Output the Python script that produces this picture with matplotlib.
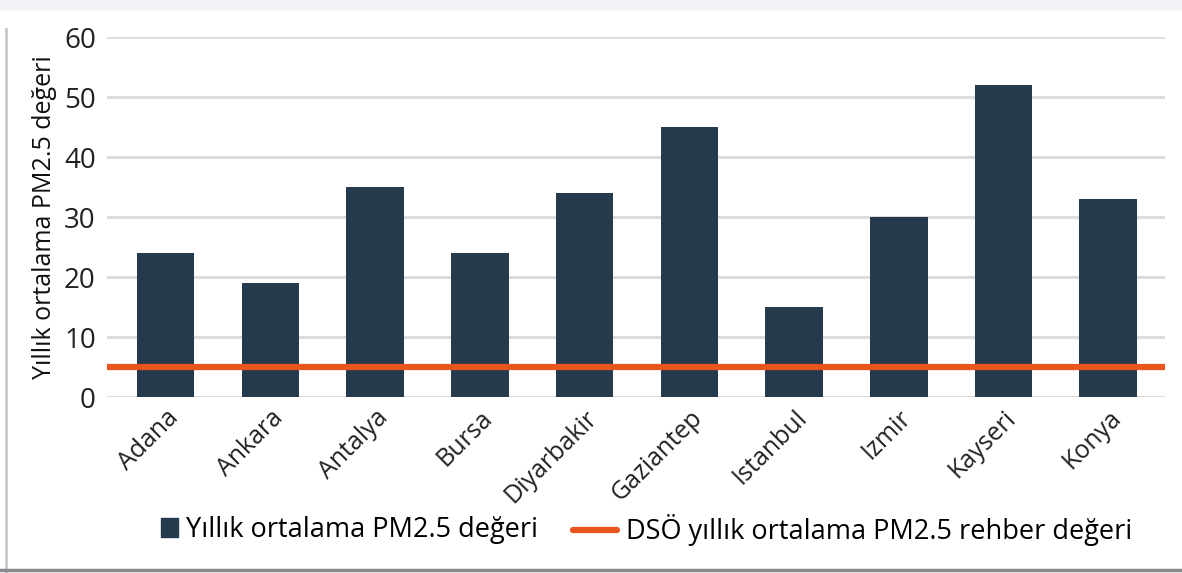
import matplotlib.pyplot as plt
from matplotlib.lines import Line2D
from matplotlib.patches import Rectangle

plt.rcParams['font.family'] = ['Open Sans', 'DejaVu Sans']

# data
cities = ['Adana', 'Ankara', 'Antalya', 'Bursa', 'Diyarbakir',
          'Gaziantep', 'Istanbul', 'Izmir', 'Kayseri', 'Konya']
pm25 = [24, 19, 35, 24, 34, 45, 15, 30, 52, 33]
who_guideline = 5
y_ticks = [0, 10, 20, 30, 40, 50, 60]

bar_color = '#263a4d'
line_color = '#e8561e'

fig = plt.figure(figsize=(11.82, 5.73), dpi=100)
ax = fig.add_axes([0.0905, 0.307, 0.895, 0.628])

x = list(range(len(cities)))
ax.bar(x, pm25, width=0.55, color=bar_color, zorder=3)
ax.plot([-0.56, len(cities) - 0.46], [who_guideline, who_guideline],
        color=line_color, linewidth=4.5, solid_capstyle='round', zorder=4)

ax.set_xlim(-0.56, len(cities) - 0.46)
ax.set_ylim(0, 60)
ax.set_yticks(y_ticks)
ax.set_xticks(x)
ax.set_xticklabels(cities, rotation=45, ha='right', rotation_mode='anchor')
ax.tick_params(axis='y', length=0, labelsize=20, colors='#222222', pad=8)
ax.tick_params(axis='x', length=0, labelsize=18, colors='#222222', pad=6)
ax.yaxis.grid(True, color='#dcdcdc', linewidth=2.2, zorder=0)
ax.set_axisbelow(True)
for s in ax.spines.values():
    s.set_visible(False)

ax.set_ylabel('Yıllık ortalama PM2.5 değeri', fontsize=18, color='#111111', labelpad=5)

# legend: two pieces so the square and the line get their own lengths
leg1 = fig.legend([Rectangle((0, 0), 1, 1, color=bar_color)],
                  ['Yıllık ortalama PM2.5 değeri'],
                  loc='center left', bbox_to_anchor=(0.136, 0.075), frameon=False,
                  fontsize=19.5, handlelength=0.65, handleheight=0.65,
                  handletextpad=0.3, borderpad=0, borderaxespad=0)
fig.legend([Line2D([0], [0], color=line_color, linewidth=4.5, solid_capstyle='round')],
           ['DSÖ yıllık ortalama PM2.5 rehber değeri'],
           loc='center left', bbox_to_anchor=(0.485, 0.075), frameon=False,
           fontsize=19.5, handlelength=1.6, handletextpad=0.35,
           borderpad=0, borderaxespad=0)

# thin frame like the screenshot
fig.add_artist(Rectangle((0, 0.985), 1, 0.015, transform=fig.transFigure,
                         color='#f1f2f6', zorder=0))
fig.add_artist(Line2D([0.005, 0.005], [0.0, 0.95], transform=fig.transFigure,
                      color='#c8c8cc', linewidth=2))
fig.add_artist(Line2D([0.0, 1.0], [0.006, 0.006], transform=fig.transFigure,
                      color='#8a8a8e', linewidth=2.5))

fig.savefig('out.png', dpi=100)
